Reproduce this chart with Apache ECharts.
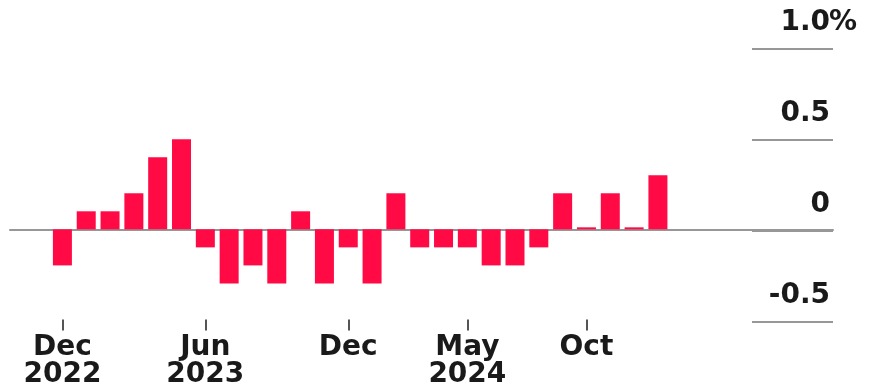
<!DOCTYPE html>
<html>
<head>
<meta charset="utf-8">
<script src="https://cdn.jsdelivr.net/npm/echarts@6/dist/echarts.min.js"></script>
<style>
  html, body { margin: 0; padding: 0; background: #fff; }
  #chart { width: 869px; height: 389px; }
</style>
</head>
<body>
<div id="chart"></div>
<script>
// Monthly change, Dec 2022 – Jan 2025 (percent)
const months = [
  'Dec 2022', 'Jan 2023', 'Feb 2023', 'Mar 2023', 'Apr 2023', 'May 2023',
  'Jun 2023', 'Jul 2023', 'Aug 2023', 'Sep 2023', 'Oct 2023', 'Nov 2023',
  'Dec 2023', 'Jan 2024', 'Feb 2024', 'Mar 2024', 'Apr 2024', 'May 2024',
  'Jun 2024', 'Jul 2024', 'Aug 2024', 'Sep 2024', 'Oct 2024', 'Nov 2024',
  'Dec 2024', 'Jan 2025'
];
const values = [
  -0.2, 0.1, 0.1, 0.2, 0.4, 0.5,
  -0.1, -0.3, -0.2, -0.3, 0.1, -0.3,
  -0.1, -0.3, 0.2, -0.1, -0.1, -0.1,
  -0.2, -0.2, -0.1, 0.2, 0.0, 0.2,
  0.0, 0.3
];
// Labelled months on the time axis
const tickMonths = ['Dec 2022', 'Jun 2023', 'Dec 2023', 'May 2024', 'Oct 2024'];
const tickLabels = ['Dec\n2022', 'Jun\n2023', 'Dec', 'May\n2024', 'Oct'];
// Value axis ticks
const yTicks = [-0.5, 0, 0.5, 1.0];
const yTickLabels = ['-0.5', '0', '0.5', '1.0'];
const unitLabel = '%';

const FONT = 'DejaVu Sans';
const tickIdx = tickMonths.map(m => months.indexOf(m));
const barData = values.map((v, i) => [i, v]);

const labelText = { fontFamily: FONT, fontSize: 28, fontWeight: 'bold', color: '#1a1a1a' };
const gridLine = { color: '#979797', width: 2 };

const chart = echarts.init(document.getElementById('chart'));
chart.setOption({
  animation: false,
  backgroundColor: '#ffffff',
  grid: [
    { left: 10, width: 823, top: 49, height: 273 },
    { left: 752, width: 81, top: 49, height: 273 }
  ],
  xAxis: [
    {
      // month ticks along the bottom of the plot
      type: 'value', gridIndex: 0,
      min: -2.2, max: 32.35,
      axisLine: { show: false, onZero: false },
      splitLine: { show: false },
      axisTick: {
        show: true, customValues: tickIdx, length: 11, inside: false,
        lineStyle: { color: '#555', width: 2 }
      },
      axisLabel: Object.assign({
        show: true, customValues: tickIdx, margin: 15, lineHeight: 27,
        formatter: v => tickLabels[tickIdx.indexOf(Math.round(v))] || ''
      }, labelText)
    },
    {
      type: 'value', gridIndex: 1, min: 0, max: 1, show: false
    },
    {
      // zero baseline across the whole plot
      type: 'value', gridIndex: 0, min: -2.2, max: 32.35,
      axisLine: { show: true, onZero: true, lineStyle: gridLine },
      axisTick: { show: false }, axisLabel: { show: false },
      splitLine: { show: false }
    }
  ],
  yAxis: [
    {
      type: 'value', gridIndex: 0, min: -0.5, max: 1.0,
      axisLine: { show: false }, axisTick: { show: false },
      axisLabel: { show: false }, splitLine: { show: false }
    },
    {
      // tick values with their grid lines, right-aligned above each line
      type: 'value', gridIndex: 1, position: 'right',
      min: -0.5, max: 1.0, interval: 0.5,
      axisLine: { show: false }, axisTick: { show: false },
      splitLine: { show: true, lineStyle: gridLine },
      axisLabel: Object.assign({
        inside: true, margin: 3, align: 'right', verticalAlign: 'bottom',
        padding: [0, 0, 12, 0],
        formatter: v => yTickLabels[yTicks.findIndex(t => Math.abs(t - v) < 1e-9)]
      }, labelText)
    },
    {
      // unit suffix after the top tick value
      type: 'value', gridIndex: 1, position: 'right',
      min: -0.5, max: 1.0,
      axisLine: { show: false }, axisTick: { show: false },
      splitLine: { show: false },
      axisLabel: Object.assign({
        inside: false, margin: -4, align: 'left', verticalAlign: 'bottom',
        padding: [0, 0, 12, 0],
        customValues: [yTicks[yTicks.length - 1]],
        formatter: () => unitLabel
      }, labelText)
    }
  ],
  series: [
    {
      type: 'bar', xAxisIndex: 0, yAxisIndex: 0,
      data: barData,
      barWidth: 19,
      barMinHeight: 2,
      z: 3,
      itemStyle: { color: '#ff0a45' }
    }
  ]
});
</script>
</body>
</html>
